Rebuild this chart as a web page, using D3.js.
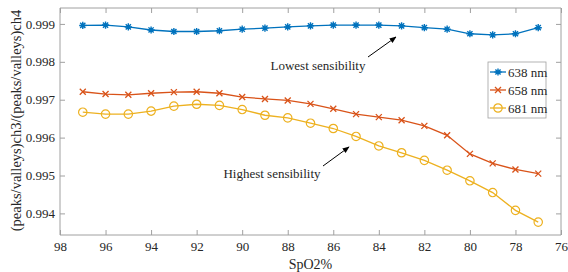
<!DOCTYPE html>
<html lang="en">
<head>
  <meta charset="UTF-8">
  <title>SpO2 sensibility</title>
  <style>
    body { margin: 0; background: #fff; overflow: hidden; }
    text { font-family: "Liberation Serif", "Times New Roman", serif; fill: #262626; }
    .axis path, .axis line { stroke: #a0a0a0; }
  </style>
</head>
<body>
  <script src="https://d3js.org/d3.v7.min.js"></script>
  <script>
    const width = 568;
    const height = 272;

    const spo2 = [97, 96, 95, 94, 93, 92, 91, 90, 89, 88, 87, 86, 85, 84, 83, 82, 81, 80, 79, 78, 77];
    const nm638 = [0.99896, 0.99897, 0.99892, 0.99884, 0.99880, 0.99880, 0.99882, 0.99886, 0.99889, 0.99892,
                   0.99895, 0.99897, 0.99897, 0.99897, 0.99895, 0.99890, 0.99886, 0.99874, 0.99871, 0.99874, 0.99890];
    const nm658 = [0.99721, 0.99715, 0.99713, 0.99717, 0.99720, 0.99721, 0.99717, 0.99707, 0.99702, 0.99698,
                   0.99689, 0.99676, 0.99662, 0.99654, 0.99646, 0.99631, 0.99606, 0.99557, 0.99532, 0.99516, 0.99505];
    const nm681 = [0.99667, 0.99662, 0.99662, 0.99670, 0.99683, 0.99688, 0.99685, 0.99674, 0.99659, 0.99652,
                   0.99638, 0.99624, 0.99603, 0.99578, 0.99560, 0.99540, 0.99514, 0.99486, 0.99455, 0.99408, 0.99377];
    const seriesNames = ["638 nm", "658 nm", "681 nm"];
    const xTicks = [98, 96, 94, 92, 90, 88, 86, 84, 82, 80, 78, 76];
    const yTicks = [0.994, 0.995, 0.996, 0.997, 0.998, 0.999];

    const colors = ["#0072BD", "#D95319", "#EDB120"];
    const markers = ["star", "cross", "circle"];

    const margin = { top: 8, right: 7, bottom: 37, left: 60 };
    const innerW = width - margin.left - margin.right;
    const innerH = height - margin.top - margin.bottom;

    const svg = d3.select("body").append("svg")
      .attr("width", width)
      .attr("height", height);

    const g = svg.append("g")
      .attr("transform", "translate(" + margin.left + "," + margin.top + ")");

    const x = d3.scaleLinear().domain([98, 76]).range([0, innerW]);
    const y = d3.scaleLinear().domain([0.99343, 0.99942]).range([innerH, 0]);

    // box + ticks on all four sides, ticks pointing inward
    g.append("g").attr("class", "axis")
      .attr("transform", "translate(0," + innerH + ")")
      .call(d3.axisBottom(x).tickValues(xTicks).tickSize(-5).tickPadding(7).tickFormat(d3.format("d")))
      .call(a => a.select(".domain").attr("d", "M0,0H" + innerW))
      .selectAll("text").attr("font-size", 13);
    g.append("g").attr("class", "axis")
      .call(d3.axisTop(x).tickValues(xTicks).tickSize(-5).tickFormat(""))
      .call(a => a.select(".domain").attr("d", "M0,0H" + innerW));
    g.append("g").attr("class", "axis")
      .call(d3.axisLeft(y).tickValues(yTicks).tickSize(-5).tickPadding(5).tickFormat(d3.format(".3f")))
      .call(a => a.select(".domain").attr("d", "M0,0V" + innerH))
      .selectAll("text").attr("font-size", 13);
    g.append("g").attr("class", "axis")
      .attr("transform", "translate(" + innerW + ",0)")
      .call(d3.axisRight(y).tickValues(yTicks).tickSize(-5).tickFormat(""))
      .call(a => a.select(".domain").attr("d", "M0,0V" + innerH));

    // axis labels
    svg.append("text")
      .attr("x", margin.left + innerW / 2)
      .attr("y", 269)
      .attr("text-anchor", "middle")
      .attr("font-size", 14)
      .text("SpO2%");
    svg.append("text")
      .attr("transform", "translate(21," + (margin.top + innerH / 2 - 1) + ") rotate(-90)")
      .attr("text-anchor", "middle")
      .attr("font-size", 14.5)
      .text("(peaks/valleys)ch3/(peaks/valleys)ch4");

    function drawMarker(sel, type, color) {
      if (type === "circle") {
        sel.append("circle").attr("r", 4.2)
          .attr("fill", "none").attr("stroke", color).attr("stroke-width", 1.2);
      } else if (type === "cross") {
        sel.append("path").attr("d", "M-3,-3L3,3M-3,3L3,-3")
          .attr("stroke", color).attr("stroke-width", 1.3);
      } else {
        sel.append("path").attr("d", "M-3.6,0H3.6M0,-3.6V3.6M-2.6,-2.6L2.6,2.6M-2.6,2.6L2.6,-2.6")
          .attr("stroke", color).attr("stroke-width", 1.4);
      }
    }

    const allSeries = [nm638, nm658, nm681];
    const line = d3.line().x((d, i) => x(spo2[i])).y(d => y(d));

    allSeries.forEach((vals, k) => {
      const sg = g.append("g");
      sg.append("path")
        .datum(vals)
        .attr("fill", "none")
        .attr("stroke", colors[k])
        .attr("stroke-width", 1.3)
        .attr("d", line);
      sg.selectAll("g.pt")
        .data(vals)
        .enter()
        .append("g")
        .attr("class", "pt")
        .attr("transform", (d, i) => "translate(" + x(spo2[i]) + "," + y(d) + ")")
        .each(function() { drawMarker(d3.select(this), markers[k], colors[k]); });
    });

    // legend
    const legend = svg.append("g").attr("transform", "translate(488,62)");
    legend.append("rect")
      .attr("width", 58).attr("height", 56)
      .attr("fill", "#fff").attr("stroke", "#a0a0a0").attr("stroke-width", 0.8);
    seriesNames.forEach((name, k) => {
      const row = legend.append("g").attr("transform", "translate(0," + (10 + k * 18) + ")");
      row.append("line").attr("x1", 2).attr("x2", 18)
        .attr("stroke", colors[k]).attr("stroke-width", 1.3);
      drawMarker(row.append("g").attr("transform", "translate(10,0)"), markers[k], colors[k]);
      row.append("text").attr("x", 20).attr("y", 4.5).attr("font-size", 13).text(name);
    });

    // annotations
    svg.append("defs").append("marker")
      .attr("id", "arrow")
      .attr("viewBox", "0 0 10 10")
      .attr("refX", 9).attr("refY", 5)
      .attr("markerWidth", 7).attr("markerHeight", 7)
      .attr("orient", "auto")
      .append("path").attr("d", "M0,1L10,5L0,9z").attr("fill", "#000");

    svg.append("line")
      .attr("x1", 368).attr("y1", 57).attr("x2", 396).attr("y2", 37)
      .attr("stroke", "#000").attr("stroke-width", 1)
      .attr("marker-end", "url(#arrow)");
    svg.append("text")
      .attr("x", 318).attr("y", 70)
      .attr("text-anchor", "middle").attr("font-size", 13).attr("fill", "#000")
      .text("Lowest sensibility");

    svg.append("line")
      .attr("x1", 323).attr("y1", 166).attr("x2", 349).attr("y2", 147)
      .attr("stroke", "#000").attr("stroke-width", 1)
      .attr("marker-end", "url(#arrow)");
    svg.append("text")
      .attr("x", 272).attr("y", 178)
      .attr("text-anchor", "middle").attr("font-size", 13).attr("fill", "#000")
      .text("Highest sensibility");
  </script>
</body>
</html>
